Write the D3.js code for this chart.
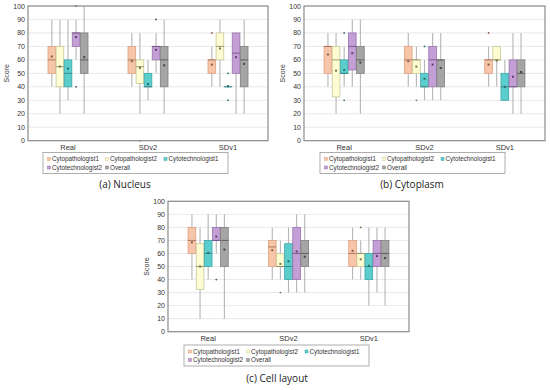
<!DOCTYPE html>
<html lang="en">
<head>
<meta charset="utf-8">
<script src="https://cdnjs.cloudflare.com/ajax/libs/d3/7.8.5/d3.min.js"></script>
<style>
  body { margin: 0; background: #fff; }
  svg { display: block; }
  .tick-label { font-family: "Liberation Sans", Arial, sans-serif; font-size: 7px; fill: #333; }
  .cat-label { font-family: "Liberation Sans", Arial, sans-serif; font-size: 7.5px; fill: #333; }
  .leg-label { font-family: "Liberation Sans", Arial, sans-serif; font-size: 6.3px; fill: #333; }
  .caption { font-family: "Open Sans", "Noto Sans", sans-serif; font-size: 10px; fill: #222; }
</style>
</head>
<body>
<div id="chart"></div>
<script>
// groups on the x axis and the five raters
var groups = ["Real", "SDv2", "SDv1"];
var raters = ["Cytopathologist1", "Cytopathologist2", "Cytotechnologist1", "Cytotechnologist2", "Overall"];
var yTicks = [0, 10, 20, 30, 40, 50, 60, 70, 80, 90, 100];

// each row: [whiskerLow, q1, median, q3, whiskerHigh, mean, outliers]
// order: Real x5 raters, SDv2 x5, SDv1 x5
var nucleus = [
  [40, 50, 60, 70, 90, 62.5, []],
  [20, 40, 55, 70, 90, 55, []],
  [30, 40, 50, 60, 90, 53.5, []],
  [60, 70, 80, 80, 90, 77, [100, 40]],
  [20, 50, 60, 80, 100, 62, []],

  [40, 50, 60, 70, 80, 59, []],
  [20, 42.5, 55, 60, 80, 54, [0]],
  [30, 40, 40, 50, 60, 42, []],
  [50, 60, 70, 70, 80, 67.5, [90]],
  [20, 40, 60, 70, 90, 56, []],

  [40, 50, 60, 60, 70, 56.5, [80]],
  [40, 60, 70, 80, 90, 68.5, []],
  [40, 40, 40, 40, 40, 40.5, [50, 30]],
  [20, 50, 65, 80, 80, 62, []],
  [20, 40, 60, 70, 90, 57, []]
];

var cytoplasm = [
  [40, 50, 70, 70, 80, 64, []],
  [20, 32.5, 60, 70, 80, 52, []],
  [40, 50, 50, 60, 70, 52.5, [80, 30]],
  [40, 52.5, 70, 80, 90, 65, []],
  [20, 50, 60, 70, 90, 58, []],

  [40, 50, 60, 70, 80, 59, []],
  [40, 50, 60, 60, 70, 55, [30]],
  [30, 40, 40, 50, 60, 46, [70]],
  [30, 40, 60, 70, 80, 56.5, []],
  [30, 40, 60, 60, 80, 54, []],

  [40, 50, 60, 60, 70, 56.5, [80]],
  [40, 60, 60, 70, 70, 59.5, []],
  [30, 30, 40, 50, 60, 40, []],
  [20, 40, 40, 60, 80, 47.5, []],
  [20, 40, 50, 60, 80, 51, []]
];

var cellLayout = [
  [40, 60, 70, 80, 90, 68.5, []],
  [10, 32.5, 50, 67.5, 80, 50, []],
  [40, 50, 60, 70, 90, 60.5, []],
  [60, 70, 70, 80, 90, 73, [40]],
  [10, 50, 70, 80, 90, 63, []],

  [40, 50, 65, 70, 80, 62.5, []],
  [40, 50, 50, 60, 70, 52, [30]],
  [30, 40, 50, 67.5, 80, 54, []],
  [30, 40, 60, 80, 90, 61.5, []],
  [30, 50, 60, 70, 90, 57.5, []],

  [40, 50, 60, 70, 80, 62, []],
  [40, 50, 60, 60, 70, 55.5, [80]],
  [20, 40, 50, 60, 80, 50.5, []],
  [30, 50, 60, 70, 80, 58, []],
  [20, 50, 60, 70, 80, 56.5, []]
];

var fills   = ["#f7c6a9", "#fdfcd3", "#5ccdcd", "#c39fd6", "#a5a5a5"];
var strokes = ["#df9f7f", "#c9c79a", "#3aa6a6", "#9a72ae", "#7f7f7f"];
var marks   = ["#8a5a44", "#77734a", "#2b6d6d", "#5d3f6d", "#444"];

var svg = d3.select("#chart").append("svg")
    .attr("width", 550)
    .attr("height", 390);

function drawPanel(data, p) {
    var g = svg.append("g");

    var x = d3.scaleBand().domain(groups).range([p.left, p.right]);
    var y = d3.scaleLinear().domain([0, 100]).range([p.bottom, p.top]);
    var inner = d3.scaleBand().domain(raters)
        .range([0, x.bandwidth() / 2]).paddingInner(0.05);

    // gridlines
    g.selectAll(".grid").data(yTicks).enter().append("line")
        .attr("x1", p.left).attr("x2", p.right)
        .attr("y1", d => y(d)).attr("y2", d => y(d))
        .attr("stroke", "#e3e3e3").attr("stroke-width", 0.8);

    // y tick labels
    g.selectAll(".yl").data(yTicks).enter().append("text")
        .attr("class", "tick-label")
        .attr("x", p.left - 3).attr("y", d => y(d) + 2.5)
        .attr("text-anchor", "end")
        .text(d => d);

    g.append("text")
        .attr("class", "tick-label")
        .attr("transform", "translate(" + p.scoreX + "," + ((p.top + p.bottom) / 2) + ") rotate(-90)")
        .attr("text-anchor", "middle")
        .text("Score");

    // category labels
    g.selectAll(".xl").data(groups).enter().append("text")
        .attr("class", "cat-label")
        .attr("x", d => x(d) + x.bandwidth() / 2)
        .attr("y", p.bottom + 9)
        .attr("text-anchor", "middle")
        .text(d => d);

    var rows = data.map(function(r, i) {
        return {
            group: groups[Math.floor(i / 5)], k: i % 5,
            lo: r[0], q1: r[1], med: r[2], q3: r[3], hi: r[4], mean: r[5], out: r[6]
        };
    });

    function bx(d) {
        return x(d.group) + x.bandwidth() / 4 + inner(raters[d.k]);
    }
    var bw = inner.bandwidth();

    var box = g.selectAll(".box").data(rows).enter().append("g");

    // whiskers
    box.append("line")
        .attr("x1", d => bx(d) + bw / 2).attr("x2", d => bx(d) + bw / 2)
        .attr("y1", d => y(d.hi)).attr("y2", d => y(d.q3))
        .attr("stroke", "#b5b5b5").attr("stroke-width", 1.1);
    box.append("line")
        .attr("x1", d => bx(d) + bw / 2).attr("x2", d => bx(d) + bw / 2)
        .attr("y1", d => y(d.q1)).attr("y2", d => y(d.lo))
        .attr("stroke", "#b5b5b5").attr("stroke-width", 1.1);

    box.append("rect")
        .attr("x", d => bx(d)).attr("width", bw)
        .attr("y", d => y(d.q3))
        .attr("height", d => Math.max(0.01, y(d.q1) - y(d.q3)))
        .attr("fill", d => fills[d.k])
        .attr("stroke", d => strokes[d.k]).attr("stroke-width", 0.8);

    box.append("line")
        .attr("x1", d => bx(d)).attr("x2", d => bx(d) + bw)
        .attr("y1", d => y(d.med)).attr("y2", d => y(d.med))
        .attr("stroke", d => marks[d.k]).attr("stroke-width", 0.7);

    box.append("rect")
        .attr("x", d => bx(d) + bw / 2 - 1).attr("y", d => y(d.mean) - 1)
        .attr("width", 2).attr("height", 2)
        .attr("fill", d => marks[d.k]);

    box.selectAll(".out").data(d => d.out.map(v => ({ v: v, d: d }))).enter().append("circle")
        .attr("cx", o => bx(o.d) + bw / 2).attr("cy", o => y(o.v))
        .attr("r", 0.9)
        .attr("fill", o => marks[o.d.k]);

    // frame
    g.append("rect")
        .attr("x", p.left).attr("y", p.top)
        .attr("width", p.right - p.left).attr("height", p.bottom - p.top)
        .attr("fill", "none").attr("stroke", "#8c8c8c").attr("stroke-width", 1.2);

    // legend
    var lg = g.append("g").attr("transform", "translate(" + p.legX + "," + p.legY + ")");
    lg.append("rect").attr("width", 185).attr("height", 21)
        .attr("fill", "#fff").attr("stroke", "#9a9a9a").attr("stroke-width", 0.8);
    var legPos = [[4.5, 6.5], [62.5, 6.5], [121, 6.5], [4.5, 15], [62.5, 15]];
    var items = lg.selectAll(".li").data(raters).enter().append("g")
        .attr("transform", (d, i) => "translate(" + legPos[i][0] + "," + legPos[i][1] + ")");
    items.append("rect").attr("x", 0).attr("y", -1.5).attr("width", 3).attr("height", 3)
        .attr("fill", (d, i) => fills[i]).attr("stroke", (d, i) => strokes[i]).attr("stroke-width", 0.5);
    items.append("text").attr("class", "leg-label")
        .attr("x", 4.5).attr("y", 2.2).text(d => d);

    g.append("text").attr("class", "caption")
        .attr("x", p.capX).attr("y", p.capY)
        .attr("text-anchor", "middle")
        .text(p.caption);
}

drawPanel(nucleus, { left: 28, right: 268, top: 6, bottom: 140.7, scoreX: 9,
    legX: 43, legY: 152.5, capX: 125, capY: 187.5, caption: "(a) Nucleus" });
drawPanel(cytoplasm, { left: 304, right: 545, top: 6, bottom: 140.7, scoreX: 285,
    legX: 320, legY: 152.5, capX: 412, capY: 187.5, caption: "(b) Cytoplasm" });
drawPanel(cellLayout, { left: 168, right: 409, top: 201.3, bottom: 331.7, scoreX: 149,
    legX: 184, legY: 345, capX: 277, capY: 381.5, caption: "(c) Cell layout" });
</script>
</body>
</html>
